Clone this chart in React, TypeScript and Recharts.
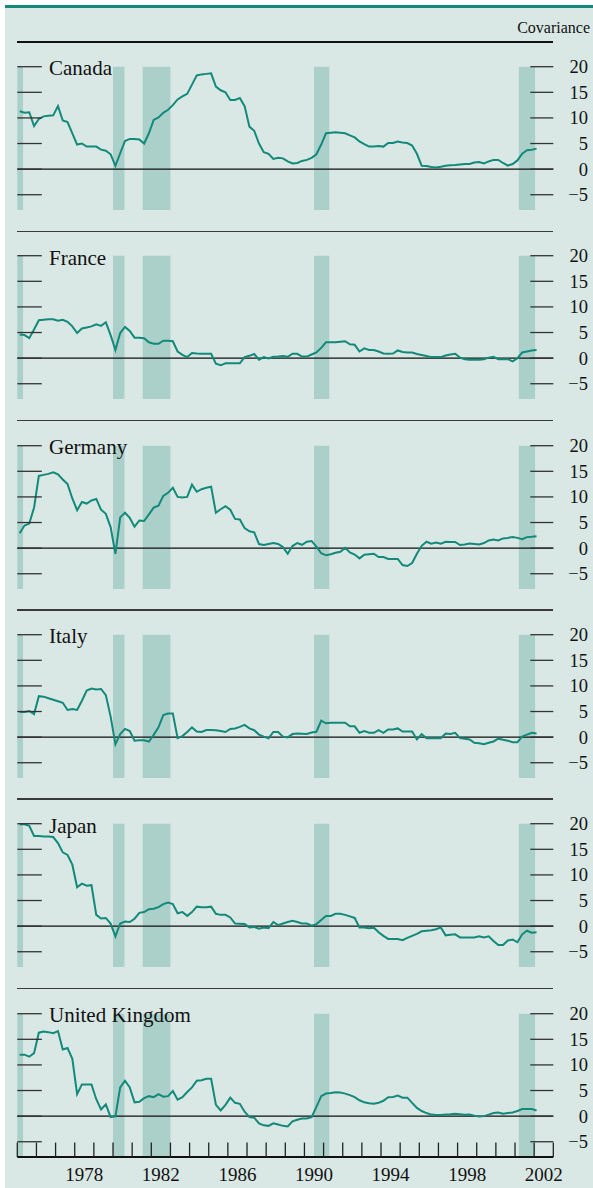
import React from "react";
import {
  LineChart,
  Line,
  XAxis,
  YAxis,
  ReferenceArea,
  ReferenceLine,
} from "recharts";

// quarterly observations, mid-quarter, 1975Q1 .. 2002Q1
const QUARTERS = Array.from({ length: 109 }, (_, i) => 1975.125 + i * 0.25);

const canada = [
  11.3, 11.0, 11.1, 8.4, 9.8, 10.3, 10.4, 10.5, 12.3, 9.5,
  9.2, 7.0, 4.8, 5.0, 4.4, 4.4, 4.4, 3.8, 3.6, 2.9,
  0.65, 3.1, 5.5, 5.9, 5.9, 5.8, 5.0, 7.0, 9.6, 10.1,
  11.0, 11.6, 12.5, 13.6, 14.2, 14.7, 16.5, 18.3, 18.5, 18.6,
  18.7, 16.1, 15.4, 15.0, 13.5, 13.5, 13.9, 12.3, 8.3, 7.5,
  5.0, 3.3, 3.0, 2.0, 2.2, 2.1, 1.5, 1.1, 1.2, 1.6,
  1.8, 2.2, 2.9, 4.8, 7.0, 7.1, 7.2, 7.1, 7.0, 6.6,
  6.2, 5.4, 4.9, 4.4, 4.4, 4.5, 4.4, 5.1, 5.1, 5.4,
  5.2, 5.1, 4.6, 3.0, 0.65, 0.6, 0.4, 0.3, 0.45, 0.65,
  0.75, 0.8, 0.9, 1.0, 1.0, 1.3, 1.4, 1.1, 1.5, 1.8,
  1.8, 1.2, 0.7, 1.0, 1.7, 3.0, 3.7, 3.8, 4.0,
];

const france = [
  4.6, 4.5, 3.9, 5.6, 7.4, 7.5, 7.6, 7.6, 7.3, 7.5,
  7.1, 6.2, 4.9, 5.8, 6.0, 6.2, 6.6, 6.3, 7.0, 4.5,
  1.6, 4.9, 6.1, 5.3, 4.0, 4.0, 3.9, 3.1, 2.8, 2.8,
  3.4, 3.4, 3.3, 1.3, 0.65, 0.2, 1.0, 0.9, 0.85, 0.85,
  0.85, -1.1, -1.4, -1.0, -1.0, -1.0, -1.0, 0.2, 0.45, 0.8,
  -0.3, 0.2, -0.05, 0.25, 0.3, 0.4, 0.25, 0.85, 0.85, 0.3,
  0.3, 0.7, 1.1, 2.0, 3.1, 3.1, 3.1, 3.2, 3.3, 2.7,
  2.6, 1.3, 1.9, 1.6, 1.6, 1.3, 0.9, 0.85, 0.9, 1.5,
  1.2, 1.1, 1.1, 0.8, 0.6, 0.4, 0.2, 0.2, 0.2, 0.5,
  0.7, 0.85, 0.1, -0.2, -0.3, -0.3, -0.3, -0.2, 0.1, 0.25,
  -0.2, -0.2, -0.2, -0.65, 0, 1.1, 1.3, 1.5, 1.6,
];

const germany = [
  2.9, 4.4, 4.8, 7.9, 14.1, 14.3, 14.5, 14.8, 14.4, 13.4,
  12.5, 9.7, 7.4, 9.0, 8.7, 9.3, 9.6, 7.5, 6.7, 4.1,
  -1.1, 6.0, 6.9, 5.9, 4.2, 5.4, 5.3, 6.6, 7.9, 8.3,
  10.2, 10.8, 11.8, 10.0, 9.9, 10.0, 12.4, 11.0, 11.5, 11.8,
  12.0, 6.9, 7.6, 8.2, 7.5, 5.7, 5.6, 3.9, 3.3, 3.1,
  0.8, 0.6, 0.8, 1.0, 0.8, 0.2, -1.1, 0.4, 1.0, 0.65,
  1.25, 1.4, 0.3, -1.0, -1.4, -1.2, -0.9, -0.7, 0.05, -0.85,
  -1.25, -2.0, -1.3, -1.2, -1.1, -1.75, -1.75, -2.1, -2.1, -2.1,
  -3.3, -3.5, -2.9, -1.1, 0.45, 1.25, 0.85, 1.1, 0.85, 1.25,
  1.2, 1.2, 0.6, 0.7, 0.9, 0.8, 0.7, 1.0, 1.5, 1.7,
  1.5, 1.9, 2.0, 2.15, 2.0, 1.75, 2.15, 2.2, 2.3,
];

const italy = [
  4.9, 4.9, 5.1, 4.5, 8.0, 7.9, 7.6, 7.3, 7.0, 6.7,
  5.3, 5.5, 5.3, 7.1, 9.1, 9.5, 9.3, 9.4, 8.2, 4.0,
  -1.4, 0.6, 1.6, 1.2, -0.7, -0.6, -0.6, -0.85, 0.45, 1.9,
  4.3, 4.6, 4.6, -0.2, 0.2, 1.0, 1.9, 1.1, 1.0, 1.4,
  1.4, 1.35, 1.2, 1.0, 1.6, 1.7, 2.0, 2.4, 1.7, 1.35,
  0.5, 0.1, -0.25, 1.0, 1.0, 0.1, -0.05, 0.6, 0.7, 0.65,
  0.6, 0.9, 1.05, 3.2, 2.7, 2.8, 2.8, 2.8, 2.8, 2.1,
  2.1, 0.85, 1.2, 0.85, 0.85, 1.35, 0.85, 1.5, 1.5, 1.7,
  1.1, 1.1, 1.1, -0.45, 0.6, -0.2, -0.2, -0.2, -0.2, 0.7,
  0.6, 0.85, -0.2, -0.3, -0.45, -1.1, -1.2, -1.4, -1.1, -0.85,
  -0.3, -0.5, -0.7, -1.0, -1.0, 0.1, 0.5, 0.85, 0.7,
];

const japan = [
  19.9, 19.9, 19.6, 17.6, 17.6, 17.5, 17.5, 17.4, 16.2, 14.4,
  13.9, 12.0, 7.6, 8.3, 7.9, 8.0, 2.2, 1.5, 1.6, 0.5,
  -2.0, 0.5, 0.9, 0.8, 1.45, 2.6, 2.75, 3.3, 3.4, 3.7,
  4.3, 4.6, 4.3, 2.5, 2.75, 2.0, 2.75, 3.8, 3.7, 3.7,
  3.8, 2.4, 2.2, 2.2, 1.7, 0.5, 0.45, 0.4, -0.25, -0.15,
  -0.5, -0.25, -0.4, 0.8, 0.2, 0.5, 0.8, 1.05, 0.8, 0.5,
  0.5, 0.1, 0.4, 1.2, 2.0, 2.0, 2.4, 2.4, 2.2, 1.9,
  1.6, -0.25, -0.25, -0.4, -0.3, -1.2, -1.9, -2.5, -2.5, -2.5,
  -2.75, -2.3, -1.9, -1.5, -1.0, -0.9, -0.8, -0.6, -0.25, -1.8,
  -1.7, -1.6, -2.2, -2.2, -2.2, -2.2, -2.0, -2.2, -2.0, -2.9,
  -3.7, -3.7, -2.8, -2.6, -3.15, -1.6, -0.9, -1.3, -1.2,
];

const unitedKingdom = [
  12.0, 12.0, 11.6, 12.3, 16.3, 16.5, 16.4, 16.2, 16.6, 13.0,
  13.3, 11.2, 4.3, 6.2, 6.2, 6.2, 3.3, 1.3, 2.3, -0.2,
  -0.05, 5.6, 6.9, 5.6, 2.7, 2.8, 3.5, 3.9, 3.7, 4.3,
  3.8, 3.9, 4.9, 3.2, 3.7, 4.7, 5.6, 6.9, 7.0, 7.3,
  7.3, 2.2, 1.1, 2.2, 3.6, 2.6, 2.4, 0.85, -0.2, -0.3,
  -1.4, -1.8, -1.9, -1.4, -1.65, -1.9, -2.0, -1.0, -0.7, -0.45,
  -0.45, -0.2, 1.8, 3.9, 4.4, 4.5, 4.65, 4.6, 4.4, 4.1,
  3.7, 3.1, 2.7, 2.5, 2.4, 2.6, 3.0, 3.7, 3.75, 4.0,
  3.6, 3.6, 2.6, 1.6, 1.0, 0.6, 0.3, 0.2, 0.2, 0.3,
  0.35, 0.45, 0.35, 0.25, 0.3, 0.1, -0.05, 0, 0.3, 0.6,
  0.7, 0.45, 0.6, 0.7, 1.0, 1.4, 1.4, 1.4, 1.1,
];

const COUNTRIES = ["Canada", "France", "Germany", "Italy", "Japan", "United Kingdom"];
const SERIES = [canada, france, germany, italy, japan, unitedKingdom];

// shaded periods (start, end) in years
const RECESSIONS = [
  [1975.0, 1975.3],
  [1980.0, 1980.6],
  [1981.55, 1983.0],
  [1990.5, 1991.3],
  [2001.2, 2002.05],
];

const Y_TICKS = [-5, 0, 5, 10, 15, 20];
const YEAR_TICKS = Array.from({ length: 29 }, (_, i) => 1975 + i);
const YEAR_LABELS = [1978, 1982, 1986, 1990, 1994, 1998, 2002];

const W = 593;
const PLOT_LEFT = 17.3;
const PLOT_RIGHT = 553.3;
const PX_PER_YEAR = (PLOT_RIGHT - PLOT_LEFT) / 28;
const TOP_PAD = 24.7;
const PLOT_H = 143.4;
const PANEL_STEP = 189.3;
const FIRST_TOP = 42;

const BG = "#d9e8e4";
const SHADE = "#abd0ca";
const TEAL = "#12897b";
const FONT = '"Liberation Serif", "Times New Roman", serif';

const rows = QUARTERS.map((t, i) => {
  const r: Record<string, number> = { t };
  COUNTRIES.forEach((c, j) => {
    r[c] = SERIES[j][i];
  });
  return r;
});

const YTick = (props: any) => {
  const { y, payload } = props;
  const v = payload.value;
  const label = v < 0 ? `\u2212${-v}` : `${v}`;
  return (
    <g>
      <line x1={PLOT_LEFT} x2={PLOT_LEFT + 24.5} y1={y} y2={y} stroke="#333" strokeWidth={1.3} />
      <line x1={PLOT_RIGHT - 23} x2={PLOT_RIGHT} y1={y} y2={y} stroke="#333" strokeWidth={1.3} />
      <text x={588} y={y} dy={6.5} textAnchor="end" fontFamily={FONT} fontSize={18.5} fill="#111">
        {label}
      </text>
    </g>
  );
};

const XTick = (props: any) => {
  const { x, payload } = props;
  const base = TOP_PAD + PLOT_H;
  const yr = payload.value;
  return (
    <g>
      <line x1={x} x2={x} y1={base - 14.5} y2={base} stroke="#222" strokeWidth={1.3} />
      {YEAR_LABELS.includes(yr) && (
        <text
          x={x + PX_PER_YEAR / 2}
          y={base + 24}
          textAnchor="middle"
          fontFamily={FONT}
          fontSize={19}
          fill="#111"
        >
          {yr}
        </text>
      )}
    </g>
  );
};

const Panel = ({ name, index }: { name: string; index: number }) => {
  const top = FIRST_TOP + index * PANEL_STEP;
  const last = index === COUNTRIES.length - 1;
  const h = last ? 199 : 189;
  return (
    <>
      <div
        style={{
          position: "absolute",
          left: PLOT_LEFT,
          top: top - 0.8,
          width: PLOT_RIGHT - PLOT_LEFT,
          height: 1.6,
          background: index === 0 ? "#111" : "#3a3a3a",
        }}
      />
      <div style={{ position: "absolute", left: 0, top }}>
        <LineChart
          width={W}
          height={h}
          data={rows}
          margin={{
            top: TOP_PAD,
            right: 0,
            left: PLOT_LEFT,
            bottom: last ? 0 : h - TOP_PAD - PLOT_H,
          }}
        >
          <XAxis
            dataKey="t"
            type="number"
            domain={[1975, 2003]}
            ticks={YEAR_TICKS}
            allowDataOverflow
            hide={!last}
            height={last ? h - TOP_PAD - PLOT_H : 0}
            axisLine={{ stroke: "#111", strokeWidth: 2 }}
            tickLine={false}
            tick={XTick}
            interval={0}
          />
          <YAxis
            orientation="right"
            width={W - PLOT_RIGHT}
            domain={[-8, 20]}
            ticks={Y_TICKS}
            allowDataOverflow
            axisLine={false}
            tickLine={false}
            tick={YTick}
            interval={0}
          />
          {RECESSIONS.map(([a, b]) => (
            <ReferenceArea
              key={a}
              x1={a}
              x2={b}
              y1={-8}
              y2={20}
              fill={SHADE}
              fillOpacity={1}
              stroke="none"
            />
          ))}
          <ReferenceLine y={0} stroke="#111" strokeWidth={1.1} />
          <Line
            type="linear"
            dataKey={name}
            stroke={TEAL}
            strokeWidth={2}
            dot={false}
            isAnimationActive={false}
          />
        </LineChart>
      </div>
      <div
        style={{
          position: "absolute",
          left: 49,
          top: top + 16.4,
          fontFamily: FONT,
          fontSize: 21,
          lineHeight: "21px",
          color: "#111",
          whiteSpace: "nowrap",
        }}
      >
        {name}
      </div>
    </>
  );
};

export default function App() {
  return (
    <div
      style={{
        position: "absolute",
        left: 0,
        top: 0,
        width: W,
        height: 1188,
        overflow: "hidden",
        background: "#fff",
      }}
    >
      <div
        style={{
          position: "absolute",
          left: 5,
          top: 5,
          width: W - 5,
          height: 1183,
          background: BG,
          borderTop: `3px solid ${TEAL}`,
          boxSizing: "border-box",
        }}
      />
      <div
        style={{
          position: "absolute",
          right: 3,
          top: 19.6,
          fontFamily: FONT,
          fontSize: 16,
          lineHeight: "16px",
          color: "#111",
        }}
      >
        Covariance
      </div>
      {COUNTRIES.map((c, i) => (
        <Panel key={c} name={c} index={i} />
      ))}
    </div>
  );
}
